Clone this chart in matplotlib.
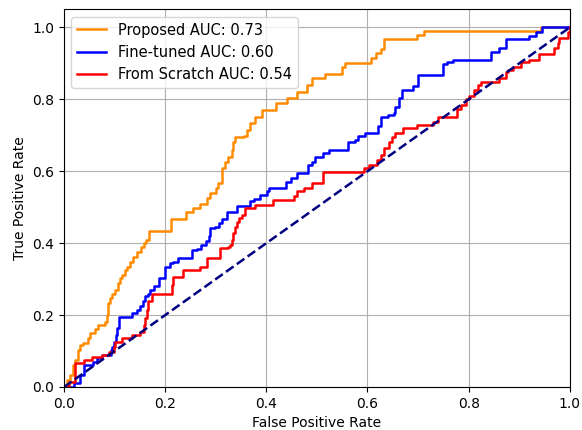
import matplotlib
matplotlib.use("Agg")
import matplotlib.pyplot as plt

# ROC points (x where the curve rises, level after the rise)
proposed_fpr = [0.0, 0.006, 0.012, 0.018, 0.022, 0.028, 0.032, 0.038, 0.048, 0.051,
                0.061, 0.067, 0.081, 0.085, 0.087, 0.091, 0.095, 0.101, 0.107, 0.111,
                0.115, 0.121, 0.125, 0.131, 0.137, 0.144, 0.152, 0.158, 0.163, 0.168,
                0.211, 0.242, 0.255, 0.269, 0.283, 0.289, 0.300, 0.305, 0.312, 0.319,
                0.325, 0.333, 0.335, 0.339, 0.355, 0.362, 0.368, 0.378, 0.392, 0.420,
                0.440, 0.460, 0.480, 0.490, 0.517, 0.550, 0.556, 0.606, 0.616, 0.626,
                0.632, 0.697, 0.711, 0.943, 1.0]
proposed_tpr = [0.0, 0.020, 0.033, 0.060, 0.075, 0.103, 0.117, 0.122, 0.136, 0.150,
                0.160, 0.173, 0.180, 0.200, 0.233, 0.248, 0.260, 0.270, 0.290, 0.303,
                0.312, 0.326, 0.334, 0.348, 0.362, 0.376, 0.390, 0.400, 0.410, 0.435,
                0.468, 0.488, 0.498, 0.510, 0.525, 0.540, 0.553, 0.568, 0.610, 0.627,
                0.640, 0.660, 0.680, 0.694, 0.697, 0.716, 0.735, 0.752, 0.770, 0.790,
                0.805, 0.820, 0.840, 0.860, 0.870, 0.890, 0.900, 0.916, 0.930, 0.940,
                0.967, 0.978, 0.990, 1.0, 1.0]

finetuned_fpr = [0.0, 0.019, 0.032, 0.039, 0.058, 0.065, 0.075, 0.092, 0.095, 0.098,
                 0.102, 0.105, 0.108, 0.135, 0.145, 0.151, 0.157, 0.160, 0.166, 0.170,
                 0.177, 0.187, 0.200, 0.210, 0.216, 0.226, 0.253, 0.263, 0.270, 0.280,
                 0.286, 0.289, 0.299, 0.306, 0.312, 0.322, 0.342, 0.368, 0.375, 0.388,
                 0.401, 0.405, 0.438, 0.448, 0.460, 0.483, 0.490, 0.497, 0.513, 0.523,
                 0.562, 0.576, 0.582, 0.596, 0.620, 0.626, 0.640, 0.652, 0.655, 0.662,
                 0.669, 0.690, 0.699, 0.750, 0.758, 0.770, 0.844, 0.860, 0.873, 0.919,
                 0.933, 0.946, 1.0]
finetuned_tpr = [0.0, 0.011, 0.033, 0.061, 0.070, 0.080, 0.089, 0.103, 0.112, 0.126,
                 0.145, 0.165, 0.195, 0.205, 0.214, 0.224, 0.238, 0.252, 0.258, 0.270,
                 0.280, 0.303, 0.335, 0.344, 0.348, 0.358, 0.380, 0.385, 0.395, 0.405,
                 0.419, 0.442, 0.446, 0.456, 0.467, 0.488, 0.502, 0.516, 0.522, 0.535,
                 0.544, 0.553, 0.570, 0.580, 0.595, 0.618, 0.627, 0.640, 0.650, 0.660,
                 0.680, 0.688, 0.697, 0.707, 0.725, 0.752, 0.757, 0.763, 0.780, 0.805,
                 0.827, 0.836, 0.869, 0.897, 0.903, 0.910, 0.933, 0.944, 0.967, 0.975,
                 0.986, 1.0, 1.0]

scratch_fpr = [0.0, 0.010, 0.021, 0.039, 0.055, 0.075, 0.088, 0.098, 0.100, 0.115,
               0.135, 0.150, 0.158, 0.160, 0.164, 0.167, 0.174, 0.213, 0.216, 0.236,
               0.269, 0.283, 0.309, 0.325, 0.329, 0.332, 0.335, 0.339, 0.342, 0.345,
               0.352, 0.358, 0.378, 0.414, 0.454, 0.460, 0.474, 0.490, 0.513, 0.593,
               0.603, 0.619, 0.626, 0.632, 0.642, 0.649, 0.655, 0.671, 0.698, 0.729,
               0.739, 0.778, 0.784, 0.794, 0.800, 0.810, 0.818, 0.824, 0.860, 0.873,
               0.877, 0.887, 0.903, 0.919, 0.939, 0.968, 0.976, 0.978, 0.996, 1.0]
scratch_tpr = [0.0, 0.015, 0.067, 0.075, 0.084, 0.089, 0.098, 0.112, 0.126, 0.136,
               0.145, 0.154, 0.173, 0.192, 0.215, 0.238, 0.260, 0.284, 0.307, 0.326,
               0.335, 0.358, 0.386, 0.390, 0.395, 0.410, 0.428, 0.446, 0.460, 0.470,
               0.479, 0.498, 0.507, 0.520, 0.532, 0.545, 0.553, 0.567, 0.597, 0.609,
               0.618, 0.632, 0.646, 0.666, 0.682, 0.694, 0.707, 0.721, 0.730, 0.738,
               0.752, 0.772, 0.785, 0.800, 0.808, 0.827, 0.841, 0.847, 0.860, 0.875,
               0.883, 0.891, 0.903, 0.910, 0.925, 0.944, 0.958, 0.972, 0.986, 1.0]

curves = [
    (proposed_fpr, proposed_tpr, 'darkorange', 'Proposed AUC: 0.73'),
    (finetuned_fpr, finetuned_tpr, 'blue', 'Fine-tuned AUC: 0.60'),
    (scratch_fpr, scratch_tpr, 'red', 'From Scratch AUC: 0.54'),
]

fig = plt.figure(figsize=(5.82, 4.30), dpi=100)
ax = fig.add_axes([0.110, 0.100, 0.869, 0.878])

for fpr, tpr, col, lbl in curves:
    ax.plot(fpr, tpr, color=col, lw=1.8, drawstyle='steps-post', label=lbl)

ax.plot([0, 1], [0, 1], color='navy', lw=1.8, linestyle='--')

ax.set_xlim([0.0, 1.0])
ax.set_ylim([0.0, 1.05])
ax.set_xlabel('False Positive Rate')
ax.set_ylabel('True Positive Rate')
ax.grid(True)
ax.legend(loc='upper left', fontsize=10.5)

fig.savefig('out.png', dpi=100)
